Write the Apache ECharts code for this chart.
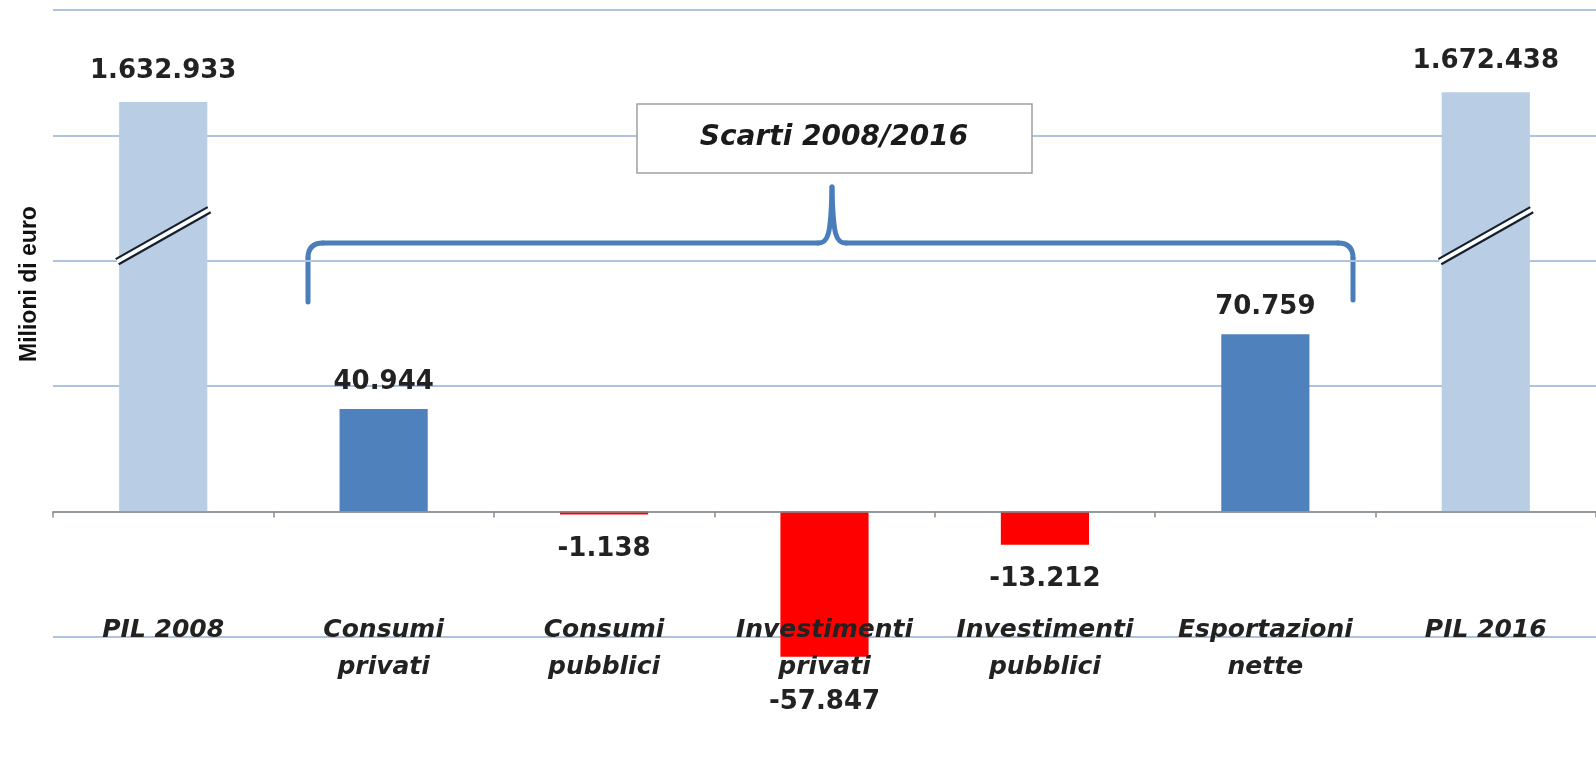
<!DOCTYPE html>
<html>
<head>
<meta charset="utf-8">
<script src="https://cdn.jsdelivr.net/npm/echarts@6.0.0/dist/echarts.min.js"></script>
<style>
  html, body { margin: 0; padding: 0; background: #fff; }
  #chart { width: 1596px; height: 760px; }
</style>
</head>
<body>
<div id="chart"></div>
<script>
// categorie e valori (milioni di euro)
const categories = ['PIL 2008', 'Consumi\nprivati', 'Consumi\npubblici', 'Investimenti\nprivati',
  'Investimenti\npubblici', 'Esportazioni\nnette', 'PIL 2016'];
const values = [1632933, 40944, -1138, -57847, -13212, 70759, 1672438];
const isPil = [true, false, false, false, false, false, true];
// PIL bars are drawn at 1/10 of their value (broken bar)
const pilScale = 10;
const breakValue = [110000, 110000];
const yMin = -50000;
const yMax = 200000;

const colPil = '#B9CDE5';
const colPos = '#4F81BD';
const colNeg = '#FF0000';

const fmt = (v) => {
  const s = Math.abs(v).toString().replace(/\B(?=(\d{3})+(?!\d))/g, '.');
  return (v < 0 ? '-' : '') + s;
};

const chart = echarts.init(document.getElementById('chart'));

const barData = values.map((v, i) => {
  let dist = 14;
  if (isPil[i]) dist = 18;
  else if (v < yMin) dist = 33; // push below the category label
  else if (v < 0) dist = 22;
  return {
    value: isPil[i] ? v / pilScale : v,
    itemStyle: { color: isPil[i] ? colPil : (v >= 0 ? colPos : colNeg) },
    label: { position: v >= 0 ? 'top' : 'bottom', distance: dist }
  };
});

const breakData = [];
isPil.forEach((p, i) => { if (p) breakData.push([i, breakValue[breakData.length]]); });

// curly bracket over the differences
const braceColor = '#4A7EBB';
const braceStyle = { fill: null, stroke: braceColor, lineWidth: 5, lineCap: 'round' };
const line = (x1, y1, x2, y2) => ({ type: 'line', shape: { x1, y1, x2, y2 }, style: braceStyle });
const curve = (x1, y1, cpx1, cpy1, cpx2, cpy2, x2, y2) => ({
  type: 'bezierCurve', shape: { x1, y1, cpx1, cpy1, cpx2, cpy2, x2, y2 }, style: braceStyle
});

const option = {
  animation: false,
  grid: { left: 53, right: 0, top: 10, bottom: 123, outerBoundsMode: 'none', containLabel: false },
  xAxis: {
    type: 'category',
    data: categories,
    z: 10,
    axisLine: { lineStyle: { color: '#8c8c8c', width: 1.5 } },
    axisTick: { show: true, length: 6, interval: 0, lineStyle: { color: '#8c8c8c', width: 1.5 } },
    axisLabel: {
      margin: -25,
      interval: 0,
      fontFamily: 'DejaVu Sans',
      fontStyle: 'italic',
      fontWeight: 'bold',
      fontSize: 25,
      lineHeight: 37,
      color: '#222'
    }
  },
  yAxis: {
    type: 'value',
    min: yMin,
    max: yMax,
    interval: 50000,
    axisLabel: { show: false },
    axisLine: { show: false },
    axisTick: { show: false },
    splitLine: { lineStyle: { color: '#AFC2DF', width: 2 } }
  },
  series: [
    {
      type: 'bar',
      barWidth: '40%',
      clip: false,
      data: barData,
      label: {
        show: true,
        fontFamily: 'DejaVu Sans',
        fontWeight: 'bold',
        fontSize: 26,
        color: '#222',
        formatter: (p) => fmt(values[p.dataIndex])
      }
    },
    {
      type: 'custom',
      z: 5,
      data: breakData,
      renderItem: (params, api) => {
        const c = api.coord([api.value(0), api.value(1)]);
        const dx = 46, dy = 26;
        const ox = 1.5, oy = 2.6;
        const seg = (sx, sy, stroke, w) => ({
          type: 'line',
          shape: { x1: c[0] - dx + sx, y1: c[1] + dy + sy, x2: c[0] + dx + sx, y2: c[1] - dy + sy },
          style: { stroke: stroke, lineWidth: w }
        });
        return {
          type: 'group',
          children: [
            seg(0, 0, '#ffffff', 5),
            seg(-ox, -oy, '#16202c', 2.2),
            seg(ox, oy, '#16202c', 2.2)
          ]
        };
      }
    }
  ],
  graphic: [
    {
      type: 'text',
      x: 18, y: 362,
      z: 100,
      rotation: Math.PI / 2,
      style: {
        text: 'Milioni di euro',
        font: 'bold 23px "Liberation Sans"',
        fill: '#111'
      }
    },
    {
      type: 'group',
      z: 100,
      children: [
        line(308, 302, 308, 258),
        curve(308, 258, 308, 248, 313, 243, 323, 243),
        line(323, 243, 818, 243),
        curve(818, 243, 828, 243, 831, 236, 832, 187),
        curve(832, 187, 833, 236, 836, 243, 846, 243),
        line(846, 243, 1338, 243),
        curve(1338, 243, 1348, 243, 1353, 248, 1353, 258),
        line(1353, 258, 1353, 300)
      ]
    },
    {
      type: 'rect',
      z: 100,
      shape: { x: 637, y: 104, width: 395, height: 69 },
      style: { fill: '#fff', stroke: '#a0a0a0', lineWidth: 1.5 }
    },
    {
      type: 'text',
      z: 101,
      x: 834, y: 138,
      style: {
        text: 'Scarti 2008/2016',
        font: 'italic bold 28px "DejaVu Sans"',
        fill: '#1a1a1a',
        align: 'center',
        verticalAlign: 'middle'
      }
    }
  ]
};

chart.setOption(option);
</script>
</body>
</html>
